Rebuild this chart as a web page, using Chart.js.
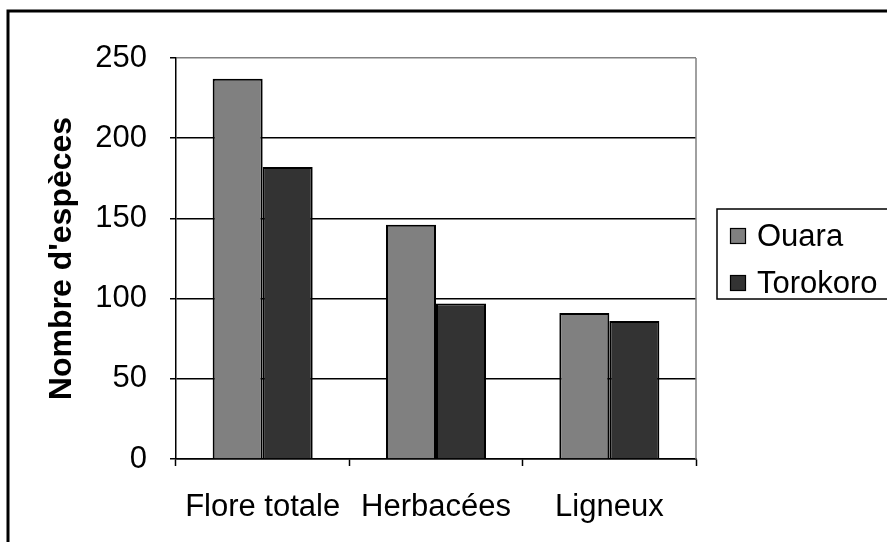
<!DOCTYPE html>
<html>
<head>
<meta charset="utf-8">
<script src="https://cdn.jsdelivr.net/npm/chart.js@4.4.1/dist/chart.umd.min.js"></script>
<style>
  html, body { margin: 0; padding: 0; background: #fff; overflow: hidden; }
  #wrap { position: relative; width: 887px; height: 542px; }
</style>
</head>
<body>
<div id="wrap"><canvas id="especesChart" width="887" height="542"></canvas></div>
<script>
var categories = ['Flore totale', 'Herbacées', 'Ligneux'];
var ouara = [237, 146, 91];
var torokoro = [182, 97, 86];
var seriesNames = ['Ouara', 'Torokoro'];
var yMax = 250;
var yStep = 50;

var FONT = "'Liberation Sans', Arial, sans-serif";

// outer frame + grey right border of the plot + boxed legend
var decor = {
    id: 'decor',
    beforeDraw: function(chart) {
        var c = chart.ctx;
        c.save();
        c.fillStyle = '#fff';
        c.fillRect(0, 0, chart.width, chart.height);
        c.strokeStyle = '#000';
        c.lineWidth = 3;
        c.beginPath();
        c.moveTo(8, chart.height + 5);
        c.lineTo(8, 11);
        c.lineTo(chart.width + 5, 11);
        c.stroke();
        c.restore();
    },
    afterDraw: function(chart) {
        var c = chart.ctx;
        var a = chart.chartArea;
        c.save();
        c.strokeStyle = '#808080';
        c.lineWidth = 1.5;
        c.beginPath();
        c.moveTo(a.right, a.top);
        c.lineTo(a.right, a.bottom);
        c.stroke();

        // legend
        var lx = 717, ly = 209, lh = 90;
        c.strokeStyle = '#000';
        c.lineWidth = 1.5;
        c.strokeRect(lx, ly, chart.width - lx + 20, lh);
        c.font = '31px ' + FONT;
        c.textBaseline = 'middle';
        c.textAlign = 'left';
        chart.data.datasets.forEach(function(ds, i) {
            var cy = 236 + i * 47;
            c.fillStyle = ds.backgroundColor;
            c.fillRect(730, cy - 8, 16, 16);
            c.lineWidth = 1.2;
            c.strokeStyle = '#000';
            c.strokeRect(730.5, cy - 7.5, 15, 15);
            c.fillStyle = '#000';
            c.fillText(ds.label, 757, cy + 1);
        });
        c.restore();
    }
};

new Chart(document.getElementById('especesChart'), {
    type: 'bar',
    data: {
        labels: categories,
        datasets: [{
            label: seriesNames[0],
            data: ouara,
            backgroundColor: '#808080',
            borderColor: '#000',
            borderWidth: 2,
            categoryPercentage: 0.577,
            barPercentage: 1.0
        }, {
            label: seriesNames[1],
            data: torokoro,
            backgroundColor: '#333333',
            borderColor: '#000',
            borderWidth: 2,
            categoryPercentage: 0.577,
            barPercentage: 1.0
        }]
    },
    options: {
        responsive: false,
        animation: false,
        layout: {
            padding: { left: 0, right: 191, top: 58, bottom: 0 }
        },
        plugins: {
            legend: { display: false },
            tooltip: { enabled: false }
        },
        scales: {
            x: {
                grid: {
                    offset: true,
                    drawOnChartArea: false,
                    drawTicks: true,
                    tickLength: 7,
                    tickColor: '#000',
                    tickWidth: 1.5
                },
                border: { color: '#000', width: 1.5 },
                ticks: {
                    color: '#000',
                    padding: 23,
                    maxRotation: 0,
                    font: { family: FONT, size: 31 }
                },
                afterFit: function(scale) { scale.height = 83; }
            },
            y: {
                min: 0,
                max: yMax,
                ticks: {
                    stepSize: yStep,
                    color: '#000',
                    padding: 23,
                    font: { family: FONT, size: 31 }
                },
                grid: {
                    color: function(ctx) { return ctx.tick && ctx.tick.value === yMax ? '#808080' : '#000'; },
                    lineWidth: 1.5,
                    tickLength: 6,
                    tickColor: '#000',
                    tickWidth: 1.5
                },
                border: { color: '#000', width: 1.5 },
                title: {
                    display: true,
                    text: "Nombre d'espèces",
                    color: '#000',
                    padding: { top: 43, bottom: 0 },
                    font: { family: FONT, size: 32, weight: 'bold' }
                },
                afterFit: function(scale) { scale.width = 176; }
            }
        }
    },
    plugins: [decor]
});
</script>
</body>
</html>
